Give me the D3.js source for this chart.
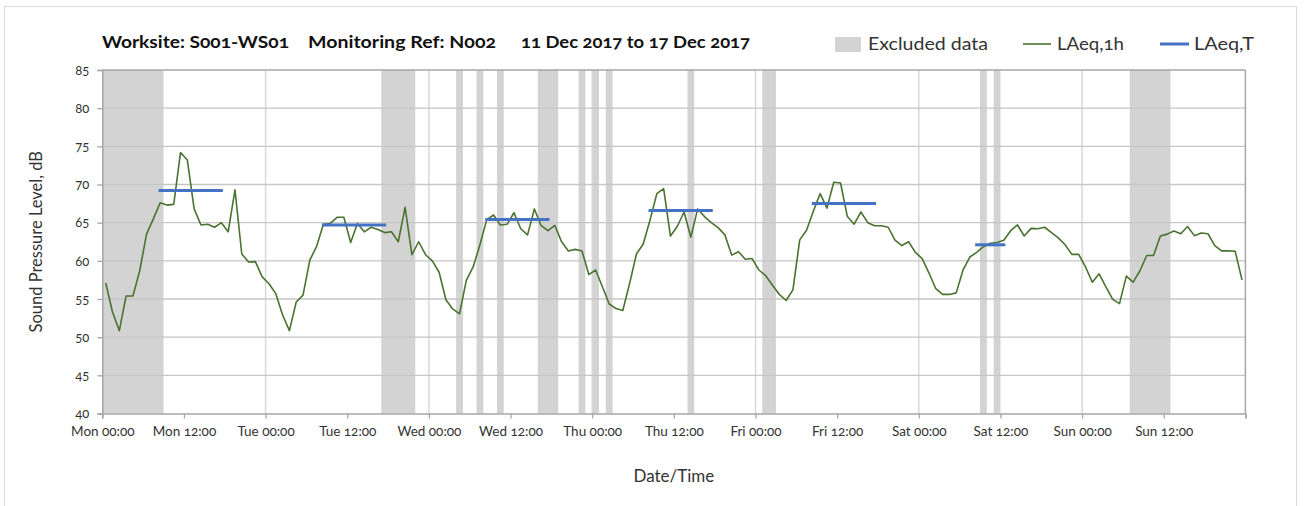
<!DOCTYPE html>
<html>
<head>
<meta charset="utf-8">
<script src="https://cdn.jsdelivr.net/npm/d3@7"></script>
<style>
  html, body { margin: 0; padding: 0; background: #fff; }
  svg text { font-family: Lato, "Open Sans", sans-serif; font-variant-numeric: oldstyle-nums; font-feature-settings: "onum"; }
</style>
</head>
<body>
<svg id="chart" width="1309" height="506"></svg>
<script>
// ---------- data ----------
const xTickHours = [0, 12, 24, 36, 48, 60, 72, 84, 96, 108, 120, 132, 144, 156, 168];
const xTickLabels = ["Mon 00:00", "Mon 12:00", "Tue 00:00", "Tue 12:00", "Wed 00:00", "Wed 12:00",
  "Thu 00:00", "Thu 12:00", "Fri 00:00", "Fri 12:00", "Sat 00:00", "Sat 12:00", "Sun 00:00", "Sun 12:00", ""];
const yTicks = [40, 45, 50, 55, 60, 65, 70, 75, 80, 85];

// hourly LAeq,1h (one value per hour, plotted at the middle of the hour)
const laeq1h = [
  57.1, 53.3, 50.85, 55.4, 55.4, 58.7, 63.5, 65.5, 67.6, 67.3,
  67.4, 74.2, 73.2, 66.8, 64.7, 64.8, 64.4, 65.0, 63.8, 69.3,
  60.9, 59.85, 59.9, 57.9, 57.0, 55.7, 52.9, 50.85,
  54.6, 55.5, 60.1, 61.9, 64.8, 64.9, 65.7, 65.7, 62.4, 64.9,
  63.8, 64.4, 64.1, 63.7, 63.8, 62.5, 67.0, 60.8, 62.5, 60.8,
  60.0, 58.5, 54.9, 53.7, 53.05, 57.45, 59.2, 62.1,
  65.4, 66.0, 64.7, 64.8, 66.3, 64.2, 63.4, 66.8, 64.6, 63.95,
  64.65, 62.5, 61.3, 61.5, 61.3, 58.2, 58.8, 56.6, 54.35, 53.75,
  53.5, 57.05, 60.9, 62.2, 65.35, 68.8, 69.45, 63.25,
  64.5, 66.4, 63.1, 66.8, 65.8, 65.0, 64.35, 63.4, 60.75, 61.2,
  60.2, 60.3, 58.8, 58.05, 56.8, 55.6, 54.8, 56.2, 62.75, 64.0,
  66.5, 68.8, 66.9, 70.3, 70.2, 65.8, 64.8, 66.4,
  65.0, 64.6, 64.6, 64.4, 62.7, 62.0, 62.5, 61.1, 60.3, 58.4,
  56.35, 55.6, 55.6, 55.8, 58.8, 60.5, 61.1, 61.85, 62.3, 62.4,
  62.7, 63.95, 64.7, 63.25, 64.25, 64.2, 64.4, 63.7,
  63.0, 62.1, 60.85, 60.85, 59.2, 57.2, 58.3, 56.6, 54.95, 54.4,
  58.0, 57.2, 58.7, 60.7, 60.7, 63.25, 63.5, 63.9, 63.55, 64.5,
  63.3, 63.65, 63.55, 62.0, 61.3, 61.3, 61.25, 57.5
];

// LAeq,T periods: start hour, end hour, level
const laeqTStart = [8.5, 32.5, 56.5, 80.5, 104.5, 128.5];
const laeqTEnd   = [17.5, 41.5, 65.5, 89.5, 113.5, 132.5];
const laeqTLevel = [69.2, 64.7, 65.4, 66.6, 67.5, 62.1];

// Excluded data periods: start hour, end hour
const excludedStart = [0, 41, 52, 55, 58, 64, 70, 72, 74, 86, 97, 129, 131, 151];
const excludedEnd   = [9, 46, 53, 56, 59, 67, 71, 73, 75, 87, 99, 130, 132, 157];

const dayGridHours = [24, 48, 72, 96, 120, 144];

// ---------- chart ----------
const svg = d3.select("#chart");
const L = 102.3, R = 1245.4, T = 70, B = 413.5;
const x = d3.scaleLinear().domain([0, 168]).range([L, R]);
const y = d3.scaleLinear().domain([40, 85]).range([B, T]);

// outer frame
svg.append("rect").attr("x", 4.5).attr("y", 6.5).attr("width", 1292).attr("height", 520)
  .attr("fill", "none").attr("stroke", "#d9d9d9").attr("stroke-width", 1);

// excluded bands
svg.append("g").selectAll("rect").data(excludedStart).join("rect")
  .attr("x", (d) => x(d))
  .attr("width", (d, i) => x(excludedEnd[i]) - x(d))
  .attr("y", T).attr("height", B - T)
  .attr("fill", "#d3d3d3");

// vertical day gridlines
svg.append("g").selectAll("line").data(dayGridHours).join("line")
  .attr("x1", (d) => x(d)).attr("x2", (d) => x(d))
  .attr("y1", T).attr("y2", B)
  .attr("stroke", "#d9d9d9").attr("stroke-width", 1.5);

// horizontal gridlines
svg.append("g").selectAll("line").data(yTicks.filter((v) => v > 40)).join("line")
  .attr("x1", L).attr("x2", R)
  .attr("y1", (d) => y(d)).attr("y2", (d) => y(d))
  .attr("stroke", (d) => d === 85 ? "#a6a6a6" : "#c6c6c6").attr("stroke-width", (d) => d === 85 ? 1.5 : 1.3);

// right border
svg.append("line").attr("x1", R).attr("x2", R).attr("y1", T).attr("y2", B)
  .attr("stroke", "#a6a6a6").attr("stroke-width", 1.5);

// LAeq,1h line
const line = d3.line().x((d, i) => x(i + 0.5)).y((d) => y(d));
svg.append("path").datum(laeq1h)
  .attr("d", line)
  .attr("fill", "none").attr("stroke", "#4a7230").attr("stroke-width", 1.6)
  .attr("stroke-linejoin", "round");

// LAeq,T lines
svg.append("g").selectAll("line").data(laeqTLevel).join("line")
  .attr("x1", (d, i) => x(laeqTStart[i]) - 1.5)
  .attr("x2", (d, i) => x(laeqTEnd[i]) + 1.5)
  .attr("y1", (d) => y(d)).attr("y2", (d) => y(d))
  .attr("stroke", "#4472c4").attr("stroke-width", 3);

// axes
const xAxis = d3.axisBottom(x).tickValues(xTickHours)
  .tickFormat((d, i) => xTickLabels[i]).tickSize(5).tickPadding(8);
const gx = svg.append("g").attr("transform", `translate(0,${B})`).call(xAxis);
gx.select(".domain").attr("stroke", "#a6a6a6").attr("stroke-width", 1.5);
gx.selectAll(".tick line").attr("stroke", "#a6a6a6").attr("stroke-width", 1.3);
gx.selectAll(".tick text").attr("fill", "#333").attr("font-size", 13.5);

const yAxis = d3.axisLeft(y).tickValues(yTicks).tickSize(5).tickPadding(8);
const gy = svg.append("g").attr("transform", `translate(${L},0)`).call(yAxis);
gy.select(".domain").attr("stroke", "#a6a6a6").attr("stroke-width", 1.5);
gy.selectAll(".tick line").attr("stroke", "#a6a6a6").attr("stroke-width", 1.3);
gy.selectAll(".tick text").attr("fill", "#333").attr("font-size", 13);

// axis titles
svg.append("text").attr("x", (L + R) / 2).attr("y", 482).attr("text-anchor", "middle")
  .attr("font-size", 17).attr("fill", "#333").text("Date/Time");
svg.append("text").attr("transform", `translate(42,${(T + B) / 2}) rotate(-90)`)
  .attr("text-anchor", "middle").attr("font-size", 16.5).attr("fill", "#333")
  .text("Sound Pressure Level, dB");

// title
const titleParts = ["Worksite: S001-WS01", "Monitoring Ref: N002", "11 Dec 2017 to 17 Dec 2017"];
const titleX = [102, 308, 521];
const titleW = [187, 188, 229];
svg.append("g").selectAll("text").data(titleParts).join("text")
  .attr("x", (d, i) => titleX[i]).attr("y", 48)
  .attr("textLength", (d, i) => titleW[i]).attr("lengthAdjust", "spacingAndGlyphs")
  .attr("font-size", 17).attr("font-weight", "bold").attr("fill", "#111").text((d) => d);

// legend
const lg = svg.append("g");
lg.append("rect").attr("x", 835).attr("y", 37).attr("width", 26).attr("height", 15).attr("fill", "#d3d3d3");
lg.append("text").attr("x", 868).attr("y", 50).attr("font-size", 17.5).attr("fill", "#333")
  .attr("textLength", 120).attr("lengthAdjust", "spacingAndGlyphs").text("Excluded data");
lg.append("line").attr("x1", 1023).attr("x2", 1051).attr("y1", 44).attr("y2", 44)
  .attr("stroke", "#4a7230").attr("stroke-width", 1.6);
lg.append("text").attr("x", 1057).attr("y", 50).attr("font-size", 17.5).attr("fill", "#333")
  .attr("textLength", 67).attr("lengthAdjust", "spacingAndGlyphs").text("LAeq,1h");
lg.append("line").attr("x1", 1160).attr("x2", 1189).attr("y1", 44).attr("y2", 44)
  .attr("stroke", "#4472c4").attr("stroke-width", 3);
lg.append("text").attr("x", 1194).attr("y", 50).attr("font-size", 17.5).attr("fill", "#333")
  .attr("textLength", 60).attr("lengthAdjust", "spacingAndGlyphs").text("LAeq,T");
</script>
</body>
</html>
